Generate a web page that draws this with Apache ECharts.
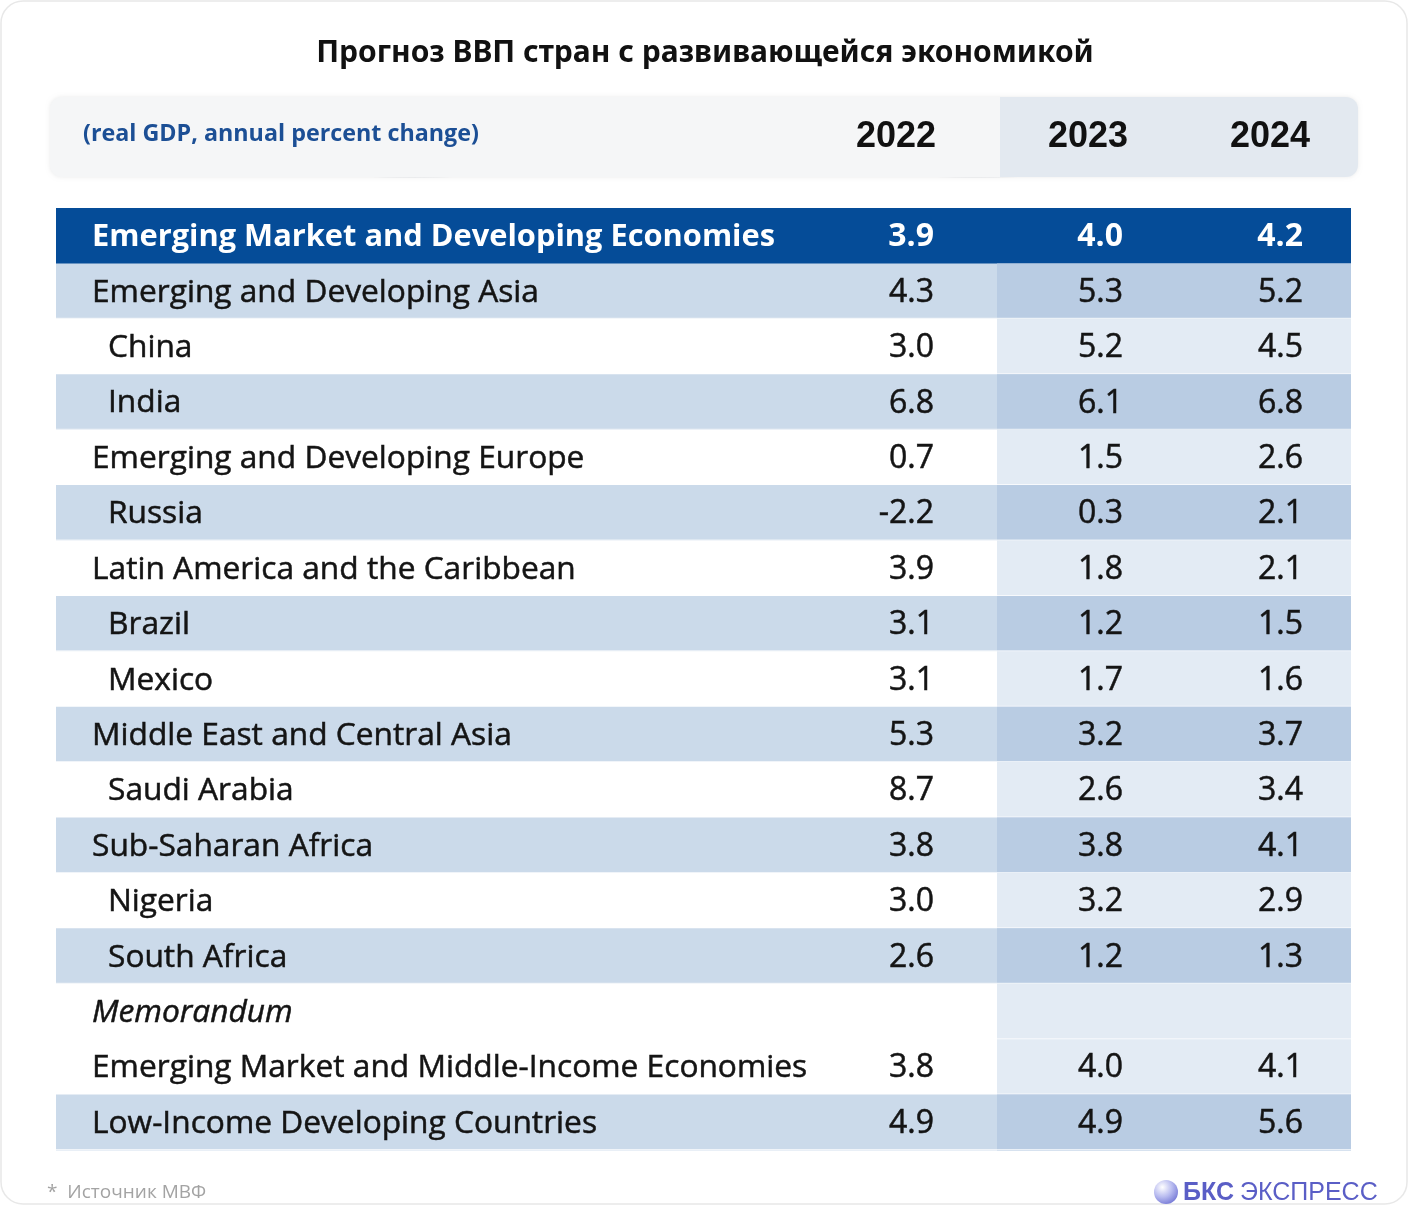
<!DOCTYPE html>
<html><head><meta charset="utf-8">
<script src="https://cdn.jsdelivr.net/npm/echarts@6/dist/echarts.min.js"></script>
<style>html,body{margin:0;padding:0;background:#fff}#c{width:1409px;height:1206px}</style>
</head><body><div id="c"></div>
<script>
const titleText = 'Прогноз ВВП стран с развивающейся экономикой';
const subtitleText = '(real GDP, annual percent change)';
const years = ['2022', '2023', '2024'];
const rowLabels = [
  'Emerging Market and Developing Economies',
  'Emerging and Developing Asia',
  'China',
  'India',
  'Emerging and Developing Europe',
  'Russia',
  'Latin America and the Caribbean',
  'Brazil',
  'Mexico',
  'Middle East and Central Asia',
  'Saudi Arabia',
  'Sub-Saharan Africa',
  'Nigeria',
  'South Africa',
  'Memorandum',
  'Emerging Market and Middle-Income Economies',
  'Low-Income Developing Countries'
];
const rowIndent = [0, 0, 1, 1, 0, 1, 0, 1, 1, 0, 1, 0, 1, 1, 0, 0, 0];
const rowShade = ['top', 'blue', 'white', 'blue', 'white', 'blue', 'white', 'blue', 'white',
  'blue', 'white', 'blue', 'white', 'blue', 'white', 'white', 'blue'];
const rowItalic = [0, 0, 0, 0, 0, 0, 0, 0, 0, 0, 0, 0, 0, 0, 1, 0, 0];
const v2022 = [3.9, 4.3, 3.0, 6.8, 0.7, -2.2, 3.9, 3.1, 3.1, 5.3, 8.7, 3.8, 3.0, 2.6, null, 3.8, 4.9];
const v2023 = [4.0, 5.3, 5.2, 6.1, 1.5, 0.3, 1.8, 1.2, 1.7, 3.2, 2.6, 3.8, 3.2, 1.2, null, 4.0, 4.9];
const v2024 = [4.2, 5.2, 4.5, 6.8, 2.6, 2.1, 2.1, 1.5, 1.6, 3.7, 3.4, 4.1, 2.9, 1.3, null, 4.1, 5.6];
const footnote = '*  Источник МВФ';

// layout (table x-domain expressed in px within the table)
const TABLE_W = 1295;
const SPLIT_X = 941;          // where 2023/2024 shaded block starts
const NUM_RIGHT = [878, 1067, 1247];
const LABEL_X = [36, 52];
const TEXT_DY = 1.5;

const COLORS = {
  top: '#054c98', blue: '#cbdaea', blueDark: '#b9cce3', white: '#ffffff', whiteDark: '#e3ebf4'
};
const FONT = '"Open Sans", Lato, sans-serif';
const INK = '#141414';

const chart = echarts.init(document.getElementById('c'), null, {renderer: 'canvas'});

const valueCols = [v2022, v2023, v2024];
const numData = [];
valueCols.forEach((arr, c) => arr.forEach((v, r) => { if (v !== null) numData.push([c, r, v]); }));

// header mesh decoration
const mesh = [];
const hx0 = 52, hx1 = 1356, hy0 = 99, hy1 = 175;
for (let x = hx0 + 20; x < hx1; x += 46) {
  const pts = [];
  for (let y = hy0; y <= hy1; y += 4) pts.push([x + 7 * Math.sin((y + x) / 23), y]);
  mesh.push({type: 'polyline', shape: {points: pts}, style: {stroke: 'rgba(150,160,175,0.22)', lineWidth: 1, fill: null}, silent: true});
}
for (let y = hy0 + 8; y < hy1; y += 13) {
  const pts = [];
  for (let x = hx0; x <= hx1; x += 8) pts.push([x, y + 5 * Math.sin((x + y * 5) / 90)]);
  mesh.push({type: 'polyline', shape: {points: pts}, style: {stroke: 'rgba(150,160,175,0.22)', lineWidth: 1, fill: null}, silent: true});
}

const yearCenters = [896, 1088, 1270];

const option = {
  backgroundColor: '#ffffff',
  animation: false,
  grid: {left: 56, right: 58, top: 208, bottom: 56},
  xAxis: {type: 'value', min: 0, max: TABLE_W, show: false},
  yAxis: {type: 'category', data: rowLabels, inverse: true, show: false},
  graphic: [
    {type: 'rect', shape: {x: 1, y: 1, width: 1406, height: 1203, r: 22}, style: {fill: '#fff', stroke: '#e8e8e8', lineWidth: 1.5}, z: -10, silent: true},
    {type: 'text', x: 705, y: 53, style: {text: titleText, font: 'bold 30px "Noto Sans", sans-serif', fill: '#111', textAlign: 'center', textVerticalAlign: 'middle'}},
    {type: 'rect', shape: {x: 50, y: 97, width: 1308, height: 80, r: 12}, style: {fill: '#f5f6f7', shadowBlur: 4, shadowColor: 'rgba(0,0,0,0.08)'}, z: 1, silent: true},
    {type: 'rect', shape: {x: 1000, y: 97, width: 358, height: 80, r: [0, 12, 12, 0]}, style: {fill: '#e3e9f0'}, z: 2, silent: true},
    {type: 'group', children: mesh, z: 3},
    {type: 'text', x: 83, y: 134, z: 5, style: {text: subtitleText, font: 'bold 23.3px "Open Sans", sans-serif', fill: '#1c4f95', textVerticalAlign: 'middle'}},
    ...years.map((yr, i) => ({type: 'text', x: yearCenters[i], y: 137, z: 5, style: {text: yr, font: 'bold 36px "Liberation Sans", Arial, sans-serif', fill: '#111', textAlign: 'center', textVerticalAlign: 'middle'}})),
    {type: 'text', x: 47, y: 1193, style: {text: footnote, font: '19px "Open Sans", sans-serif', fill: '#a3a3a3', textVerticalAlign: 'middle'}},
    {type: 'circle', shape: {cx: 1166, cy: 1192, r: 12}, style: {fill: new echarts.graphic.RadialGradient(0.35, 0.3, 0.9, [{offset: 0, color: '#ffffff'}, {offset: 0.45, color: '#b9bcf0'}, {offset: 1, color: '#5c60cc'}])}},
    {type: 'text', x: 1183, y: 1193, style: {text: 'БКС', font: 'bold 25px "Liberation Sans", Arial, sans-serif', fill: '#5a5ec6', textVerticalAlign: 'middle'}},
    {type: 'text', x: 1240, y: 1193, style: {text: 'ЭКСПРЕСС', font: '25px "Liberation Sans", Arial, sans-serif', fill: '#5a5ec6', textVerticalAlign: 'middle'}}
  ],
  series: [
    {
      type: 'custom',
      name: 'rows',
      data: rowLabels.map((l, i) => [0, i]),
      encode: {x: 0, y: 1},
      z: 1,
      renderItem: function (params, api) {
        const i = api.value(1);
        const h = api.size([0, 1])[1];
        const p0 = api.coord([0, i]);
        const pS = api.coord([SPLIT_X, i]);
        const p1 = api.coord([TABLE_W, i]);
        const top = p0[1] - h / 2;
        const shade = rowShade[i];
        const children = [];
        const base = shade === 'top' ? COLORS.top : shade === 'blue' ? COLORS.blue : COLORS.white;
        const right = shade === 'top' ? COLORS.top : shade === 'blue' ? COLORS.blueDark : COLORS.whiteDark;
        children.push({type: 'rect', shape: {x: p0[0], y: top, width: p1[0] - p0[0], height: h + 0.5}, style: {fill: base}});
        children.push({type: 'rect', shape: {x: pS[0], y: top, width: p1[0] - pS[0], height: h + 0.5}, style: {fill: right}});
        if (shade !== 'top') {
          children.push({type: 'rect', shape: {x: p0[0], y: top + h - 1, width: p1[0] - p0[0], height: 1.2}, style: {fill: 'rgba(255,255,255,0.7)'}});
        }
        const lx = api.coord([LABEL_X[rowIndent[i]], i])[0];
        const isTop = shade === 'top';
        children.push({
          type: 'text', x: lx, y: p0[1] + TEXT_DY,
          style: {
            text: rowLabels[i],
            font: (rowItalic[i] ? 'italic ' : '') + (isTop ? 'bold 30.8px ' : '31.7px ') + FONT,
            fill: isTop ? '#ffffff' : INK,
            stroke: isTop ? null : INK,
            lineWidth: isTop ? 0 : 0.5,
            textVerticalAlign: 'middle'
          }
        });
        return {type: 'group', children: children};
      }
    },
    {
      type: 'custom',
      name: 'values',
      data: numData,
      encode: {y: 1},
      z: 2,
      renderItem: function (params, api) {
        const c = api.value(0), r = api.value(1), v = api.value(2);
        const p = api.coord([NUM_RIGHT[c], r]);
        const top = rowShade[r] === 'top';
        return {
          type: 'text', x: p[0], y: p[1] + TEXT_DY,
          style: {
            text: v.toFixed(1),
            font: (top ? 'bold ' : '') + '32px ' + FONT,
            fill: top ? '#ffffff' : INK,
            stroke: top ? null : INK,
            lineWidth: top ? 0 : 0.5,
            textAlign: 'right', textVerticalAlign: 'middle'
          }
        };
      }
    }
  ]
};
chart.setOption(option);
</script></body></html>
